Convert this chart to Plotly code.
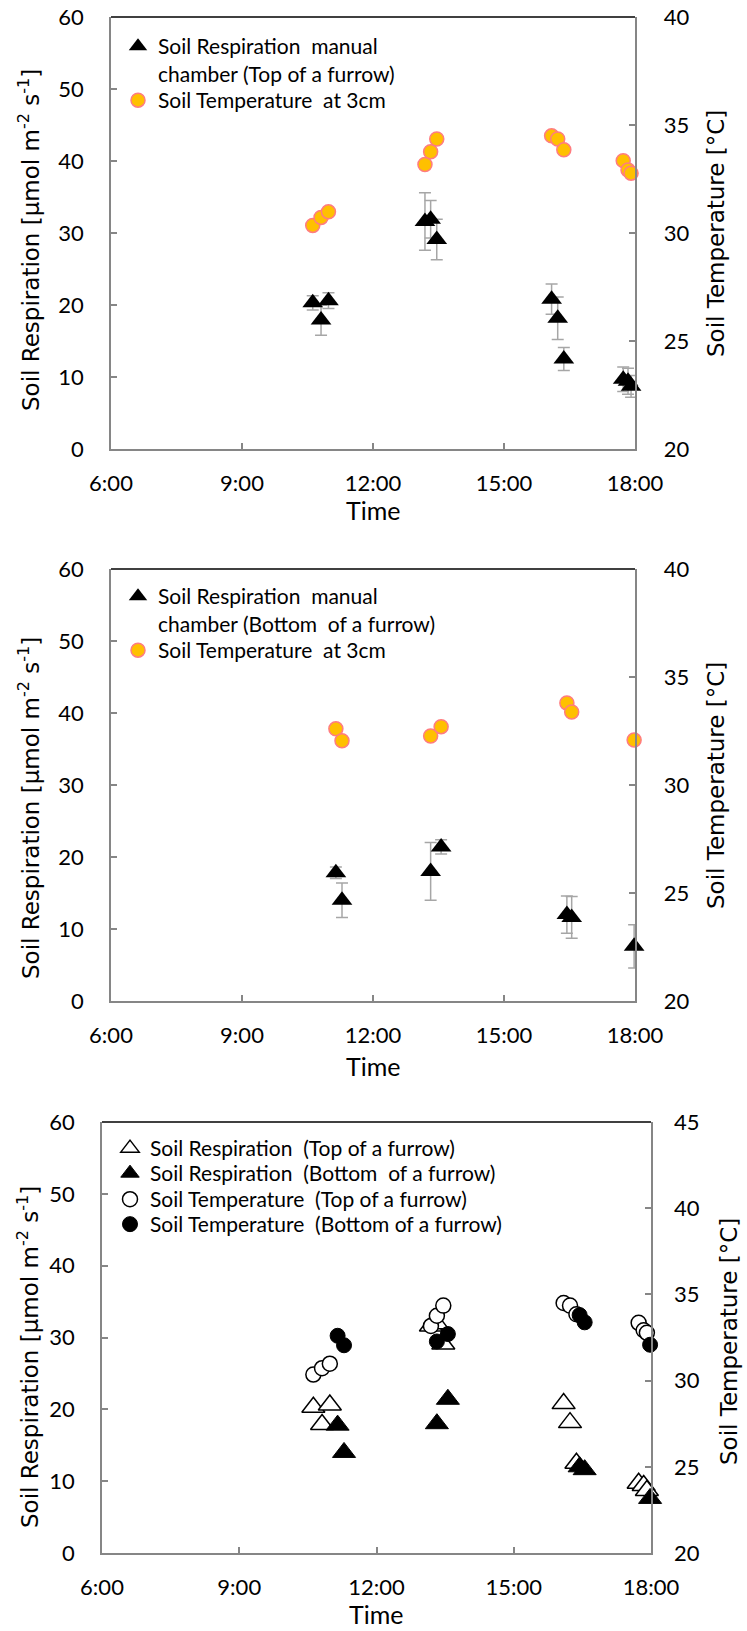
import plotly.graph_objects as go

# ---------------- data ----------------
tick_hours = [6, 9, 12, 15, 18]
tick_labels = ["6:00", "9:00", "12:00", "15:00", "18:00"]

# Top of a furrow (manual chamber) - hours of day
time_top = [10.62, 10.81, 10.98, 13.19, 13.32, 13.46, 16.09, 16.23, 16.37, 17.73, 17.84, 17.91]
resp_top = [20.3, 17.9, 20.6, 31.6, 31.9, 29.1, 20.8, 18.15, 12.5, 9.7, 9.4, 8.7]
resp_top_err = [1.0, 2.1, 1.1, 4.0, 2.6, 2.8, 2.1, 2.95, 1.6, 1.7, 1.8, 1.5]
temp_top = [30.35, 30.72, 30.98, 33.17, 33.76, 34.35, 34.5, 34.35, 33.85, 33.35, 32.92, 32.77]

# Bottom of a furrow
time_bot = [11.15, 11.29, 13.32, 13.56, 16.44, 16.55, 17.98]
resp_bot = [17.8, 14.0, 18.0, 21.4, 12.0, 11.6, 7.6]
resp_bot_err = [0.8, 2.4, 4.0, 1.0, 2.6, 2.9, 3.0]
temp_bot = [32.6, 32.05, 32.27, 32.7, 33.8, 33.38, 32.08]

# ---------------- style ----------------
W, H = 747, 1631
GREY = "#868686"
ERR = "#A6A6A6"
TICKFONT = dict(family="Lato", size=22, color="black")
TITLEFONT = dict(family="DejaVu Sans", size=23, color="black")
LEGFONT = dict(family="Lato", size=21, color="black")
ORANGE = "#FFC000"
PINK = "#FF7C80"
NB = "\u00a0"


def px_x(p):
    return p / W


def px_y(p):
    return 1 - p / H


panels = [
    dict(x0=111, x1=635, yt=17, yb=449, r=[20, 40], pre=NB * 4),
    dict(x0=111, x1=635, yt=569, yb=1001, r=[20, 40], pre=NB * 4),
    dict(x0=102, x1=651, yt=1122, yb=1553, r=[20, 45], pre=NB * 3),
]

fig = go.Figure()

# Panel 1
fig.add_trace(go.Scatter(
    x=time_top, y=resp_top, mode="markers", xaxis="x", yaxis="y",
    name="Soil Respiration  manual<br>chamber (Top of a furrow)", legend="legend",
    marker=dict(symbol="triangle-up", size=18, color="black"),
    error_y=dict(type="data", array=resp_top_err, color=ERR, thickness=1.5, width=6),
    cliponaxis=False))
fig.add_trace(go.Scatter(
    x=time_top, y=temp_top, mode="markers", xaxis="x", yaxis="y2",
    name="Soil Temperature  at 3cm", legend="legend2",
    marker=dict(symbol="circle", size=14, color=ORANGE, line=dict(color=PINK, width=1.5)),
    cliponaxis=False))

# Panel 2
fig.add_trace(go.Scatter(
    x=time_bot, y=resp_bot, mode="markers", xaxis="x2", yaxis="y3",
    name="Soil Respiration  manual<br>chamber (Bottom  of a furrow)", legend="legend3",
    marker=dict(symbol="triangle-up", size=18, color="black"),
    error_y=dict(type="data", array=resp_bot_err, color=ERR, thickness=1.5, width=6),
    cliponaxis=False))
fig.add_trace(go.Scatter(
    x=time_bot, y=temp_bot, mode="markers", xaxis="x2", yaxis="y4",
    name="Soil Temperature  at 3cm", legend="legend4",
    marker=dict(symbol="circle", size=14, color=ORANGE, line=dict(color=PINK, width=1.5)),
    cliponaxis=False))

# Panel 3
fig.add_trace(go.Scatter(
    x=time_top, y=resp_top, mode="markers", xaxis="x3", yaxis="y5",
    name="Soil Respiration  (Top of a furrow)", legend="legend5",
    marker=dict(symbol="triangle-up", size=20, color="white", line=dict(color="black", width=1.5)),
    cliponaxis=False))
fig.add_trace(go.Scatter(
    x=time_bot, y=resp_bot, mode="markers", xaxis="x3", yaxis="y5",
    name="Soil Respiration  (Bottom  of a furrow)", legend="legend6",
    marker=dict(symbol="triangle-up", size=20, color="black", line=dict(color="black", width=1)),
    cliponaxis=False))
fig.add_trace(go.Scatter(
    x=time_top, y=temp_top, mode="markers", xaxis="x3", yaxis="y6",
    name="Soil Temperature  (Top of a furrow)", legend="legend7",
    marker=dict(symbol="circle", size=15, color="white", line=dict(color="black", width=1.5)),
    cliponaxis=False))
fig.add_trace(go.Scatter(
    x=time_bot, y=temp_bot, mode="markers", xaxis="x3", yaxis="y6",
    name="Soil Temperature  (Bottom of a furrow)", legend="legend8",
    marker=dict(symbol="circle", size=15, color="black", line=dict(color="black", width=1)),
    cliponaxis=False))

common_axis = dict(showline=True, linecolor=GREY, linewidth=1.5, showgrid=False, zeroline=False,
                   ticks="inside", ticklen=6, tickcolor=GREY, tickwidth=1.5, tickfont=TICKFONT)

layout = dict(width=W, height=H, margin=dict(l=0, r=0, t=0, b=0, autoexpand=False),
              paper_bgcolor="white", plot_bgcolor="white", showlegend=True)

axis_names = [("xaxis", "yaxis", "yaxis2", "x", "y", "y2"),
              ("xaxis2", "yaxis3", "yaxis4", "x2", "y3", "y4"),
              ("xaxis3", "yaxis5", "yaxis6", "x3", "y5", "y6")]

shapes = []
for p, (xa, ya, ya2, xr, yr, yr2) in zip(panels, axis_names):
    xd = [px_x(p["x0"]), px_x(p["x1"])]
    yd = [px_y(p["yb"]), px_y(p["yt"])]
    layout[xa] = dict(common_axis, domain=xd, anchor=yr, range=[6, 18],
                      tickvals=tick_hours, ticktext=tick_labels, ticklabelstandoff=14)
    layout[ya] = dict(common_axis, domain=yd, anchor=xr, range=[0, 60], dtick=10,
                      ticklabelstandoff=21)
    layout[ya2] = dict(common_axis, overlaying=yr, side="right", anchor=xr,
                       range=p["r"], dtick=5, tickprefix=p["pre"])
    shapes.append(dict(type="line", xref=f"{xr} domain", yref=f"{yr} domain",
                       x0=0, x1=1, y0=1, y1=1, line=dict(color="black", width=1.5)))

layout["shapes"] = shapes

leg_common = dict(font=LEGFONT, bgcolor="rgba(0,0,0,0)", borderwidth=0,
                  xanchor="left", yanchor="top", valign="top", itemwidth=30)
# (legend id, x of legend box, centre of first text line) in pixels
legend_pos = [("legend", 118, 43), ("legend2", 118, 97),
              ("legend3", 118, 593), ("legend4", 118, 647),
              ("legend5", 110, 1145), ("legend6", 110, 1170),
              ("legend7", 110, 1196), ("legend8", 110, 1221)]
for lid, lx, ly in legend_pos:
    layout[lid] = dict(leg_common, x=px_x(lx), y=px_y(ly - 17))

ylab = "Soil Respiration [µmol m<sup>-2</sup> s<sup>-1</sup>]"
tlab = "Soil Temperature [°C]"
ann = []
for (lx, ly, rx, ry, tx, ty) in [(29, 240, 716, 234, 373, 510),
                                 (29, 808, 716, 786, 373, 1066),
                                 (28, 1357, 729, 1342, 376, 1614)]:
    ann.append(dict(text=ylab, x=px_x(lx), y=px_y(ly), xref="paper", yref="paper",
                    textangle=-90, showarrow=False, font=TITLEFONT, xanchor="center", yanchor="middle"))
    ann.append(dict(text=tlab, x=px_x(rx), y=px_y(ry), xref="paper", yref="paper",
                    textangle=-90, showarrow=False, font=TITLEFONT, xanchor="center", yanchor="middle"))
    ann.append(dict(text="Time", x=px_x(tx), y=px_y(ty), xref="paper", yref="paper",
                    showarrow=False, font=dict(family="Lato", size=25, color="black"),
                    xanchor="center", yanchor="middle"))
layout["annotations"] = ann

fig.update_layout(**layout)
fig.write_html("out.html")
